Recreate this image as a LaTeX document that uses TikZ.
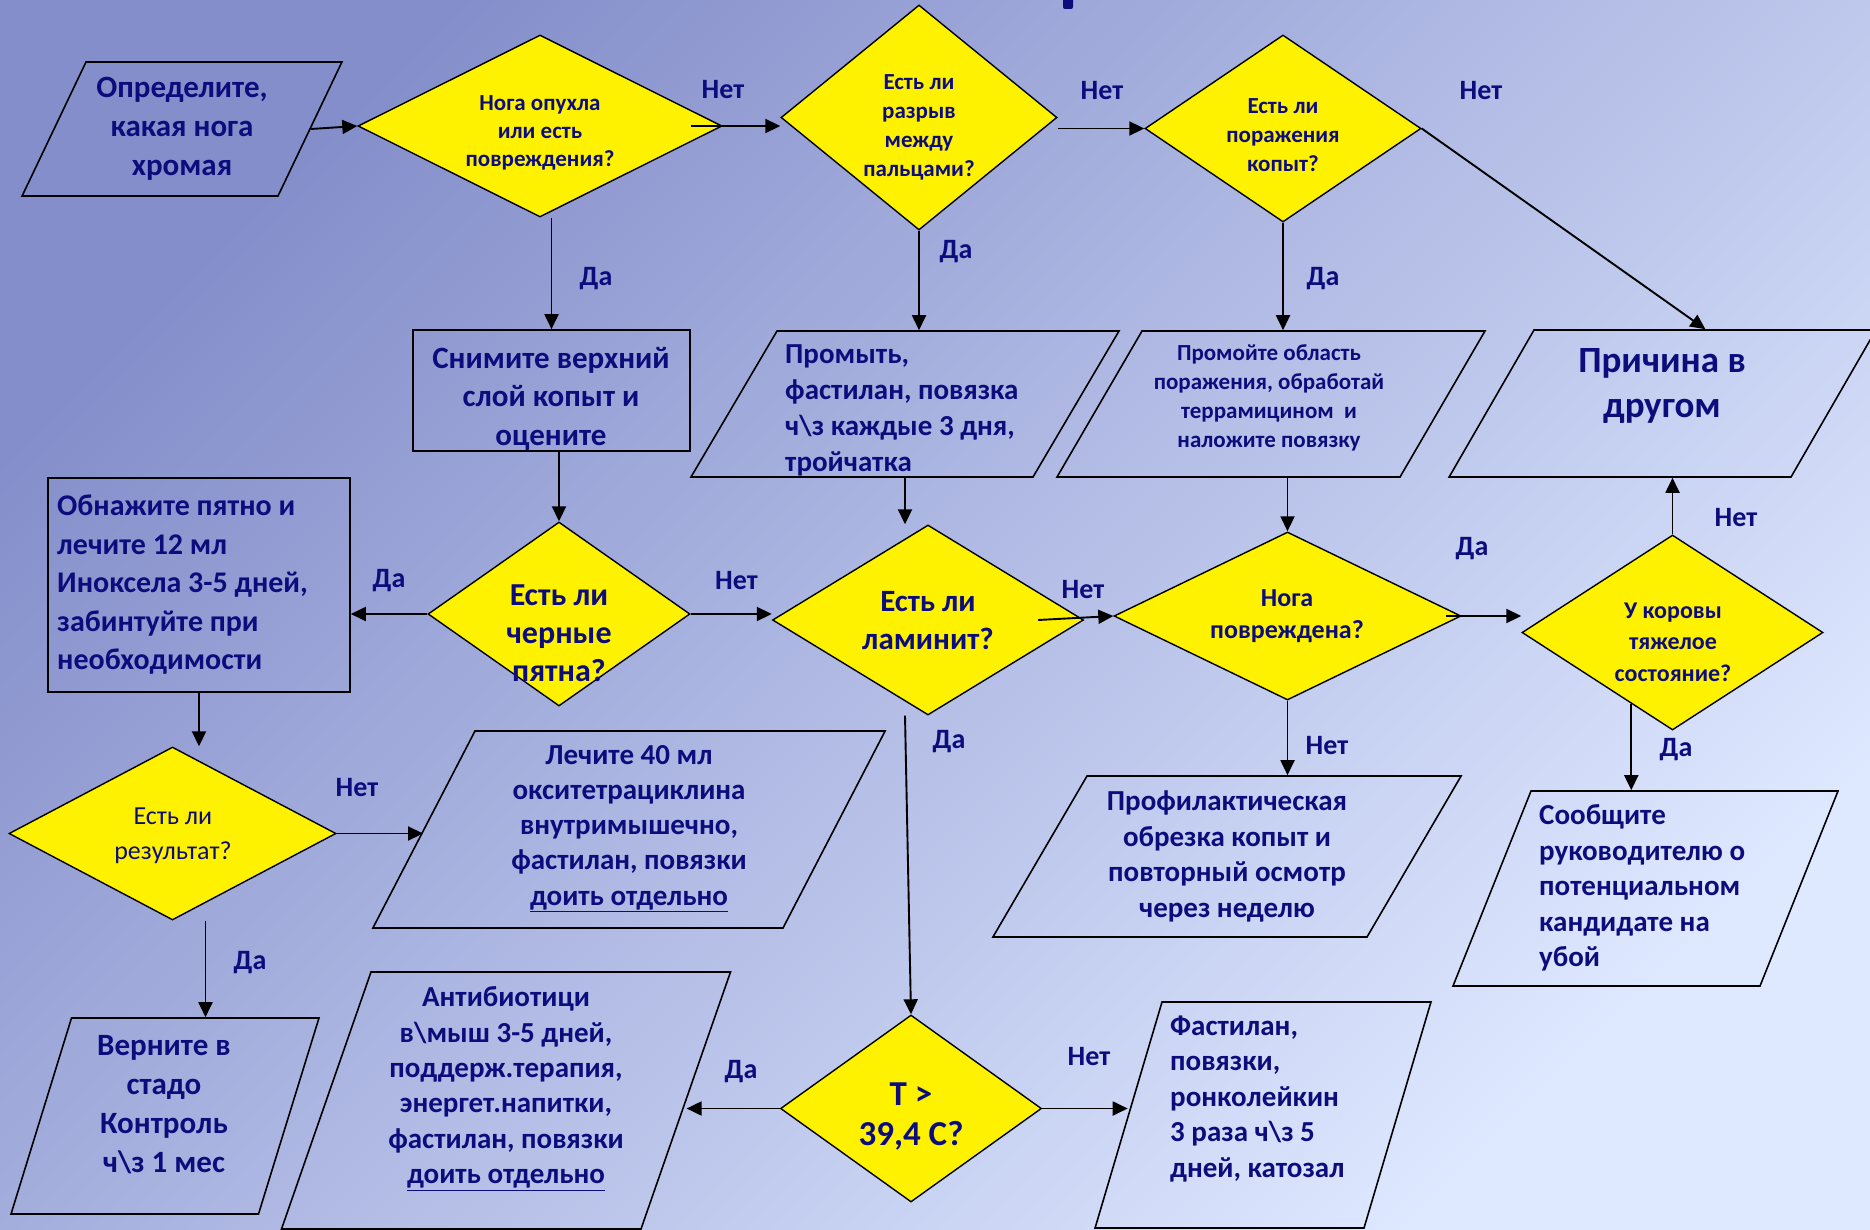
\documentclass[tikz,border=0pt]{standalone}
\usepackage{fontspec}
\setmainfont{Carlito}
\usetikzlibrary{shapes.geometric,arrows.meta,calc}

\definecolor{azuloscuro}{RGB}{12,12,125}
\definecolor{fondoA}{RGB}{132,142,202}
\definecolor{fondoB}{RGB}{198,208,244}
\definecolor{fondoC}{RGB}{222,232,255}

\tikzset{
  rombo/.style={diamond, draw=black, line width=1.4pt, fill=yellow, inner sep=0pt},
  para/.style={trapezium, draw=black, line width=1.6pt, minimum width=0pt, minimum height=0pt},
  caja/.style={rectangle, draw=black, line width=1.6pt, inner sep=0pt},
  texto/.style={text=azuloscuro, align=center, inner sep=0pt},
  tam/.style 2 args={font=\fontsize{#1}{#2}\selectfont\bfseries},
  etiq/.style={text=azuloscuro, font=\fontsize{28}{32}\selectfont\bfseries, inner sep=0pt},
  flecha/.style={-{Triangle[length=15pt,width=14pt]}, line width=1.9pt},
}

\begin{document}
\begin{tikzpicture}[x=1pt, y=-1pt]
            % Fondo degradado
            \useasboundingbox (0,0) rectangle (1870,1230);
            \shade[top color=fondoA, middle color=fondoB, bottom color=fondoC, shading angle=45] (0,0) rectangle (1870,1230);
            \fill[azuloscuro, rounded corners=2pt] (1063,-4) rectangle (1073,9);

            % Rombos de decision
            \node[rombo, minimum width=364, minimum height=182] (qOpukhla) at (540,126) {};
            \node[rombo, minimum width=276, minimum height=225] (qRazryv) at (919,117.5) {};
            \node[rombo, minimum width=276, minimum height=187] (qKopyt) at (1283,128.5) {};
            \node[rombo, minimum width=262, minimum height=184] (qPyatna) at (559,614) {};
            \node[rombo, minimum width=311, minimum height=190] (qLaminit) at (928,620) {};
            \node[rombo, minimum width=347, minimum height=168] (qNoga) at (1287.5,616) {};
            \node[rombo, minimum width=301, minimum height=195] (qKorova) at (1672.5,632.5) {};
            \node[rombo, minimum width=327, minimum height=173] (qRezult) at (172.5,833.5) {};
            \node[rombo, minimum width=261, minimum height=187] (qTemp) at (911,1108.5) {};

            % Cajas rectangulares
            \node[caja, minimum width=277, minimum height=121] (snimite) at (551.5,390.5) {};
            \node[caja, minimum width=302, minimum height=214] (obnazhite) at (199,585) {};

            % Paralelogramos
            \node[para, inner xsep=96, inner ysep=67, trapezium left angle=64.5, trapezium right angle=115.5] (opred) at (182,129) {};
            \node[para, inner xsep=128, inner ysep=73, trapezium left angle=59.5, trapezium right angle=120.5] (promyt) at (905,404) {};
            \node[para, inner xsep=129, inner ysep=73, trapezium left angle=59.8, trapezium right angle=120.2] (promoite) at (1271,404) {};
            \node[para, inner xsep=128.5, inner ysep=73.5, trapezium left angle=60, trapezium right angle=120] (prichina) at (1662.5,403.5) {};
            \node[para, inner xsep=114.5, inner ysep=97.5, trapezium left angle=68.2, trapezium right angle=111.8] (soobsh) at (1645.5,888.5) {};
            \node[para, inner xsep=140, inner ysep=80.5, trapezium left angle=59.7, trapezium right angle=120.3] (profil) at (1227,856.5) {};
            \node[para, inner xsep=154, inner ysep=98.5, trapezium left angle=62.6, trapezium right angle=117.4] (lechite) at (629,829.5) {};
            \node[para, inner xsep=93.5, inner ysep=98, trapezium left angle=72.85, trapezium right angle=107.15] (vernite) at (165,1116) {};
            \node[para, inner xsep=135, inner ysep=128.5, trapezium left angle=70.8, trapezium right angle=109.2] (antibiot) at (506,1100.5) {};
            \node[para, inner xsep=101, inner ysep=113, trapezium left angle=73.5, trapezium right angle=106.5] (fastilan) at (1263,1115) {};

            % Textos de los rombos
            \node[texto, tam={23}{28.3}] (qOpukhlaT) at (540,133) {Нога опухла\\или есть\\повреждения?};
            \node[texto, tam={23}{29}] (qRazryvT) at (919,127) {Есть ли\\разрыв\\между\\пальцами?};
            \node[texto, tam={23}{29}] (qKopytT) at (1283,135) {Есть ли\\поражения\\копыт?};
            \node[texto, tam={32}{38}] (qPyatnaT) at (559,633) {Есть ли\\черные\\пятна?};
            \node[texto, tam={31}{38}] (qLaminitT) at (928,621) {Есть ли\\ламинит?};
            \node[texto, tam={26}{32}] (qNogaT) at (1287,616) {Нога\\повреждена?};
            \node[texto, tam={24}{31.5}] (qKorovaT) at (1673,642) {У коровы\\тяжелое\\состояние?};
            \node[texto, font=\fontsize{26}{35}\selectfont] (qRezultT) at (173,835.5) {Есть ли\\результат?};
            \node[texto, tam={35}{40}] (qTempT) at (911,1117) {T >\\39,4 C?};

            % Textos de las cajas
            \node[texto, tam={31}{39}] (opredT) at (182,129) {Определите,\\какая нога\\хромая};
            \node[texto, tam={31}{38.5}] (snimiteT) at (551,398.5) {Снимите верхний\\слой копыт и\\оцените};
            \node[texto, tam={29}{36}, align=left, anchor=west] (promytT) at (785,410.5) {Промыть,\\фастилан, повязка\\ч\textbackslash з каждые 3 дня,\\тройчатка};
            \node[texto, tam={23}{29}] (promoiteT) at (1269,397.5) {Промойте область\\поражения, обработай\\террамицином~ и\\наложите повязку};
            \node[texto, tam={37}{45}] (prichinaT) at (1662,385.5) {Причина в\\другом};
            \node[texto, tam={30}{38.5}, align=left, anchor=west] (obnazhiteT) at (57,585) {Обнажите пятно и\\лечите 12 мл\\Иноксела 3-5 дней,\\забинтуйте при\\необходимости};
            \node[texto, tam={29}{35.3}] (lechiteT) at (629,828.5) {Лечите 40 мл\\окситетрациклина\\внутримышечно,\\фастилан, повязки\\\underline{доить отдельно}};
            \node[texto, tam={31}{39}] (verniteT) at (164,1105) {Верните в\\стадо\\Контроль\\ч\textbackslash з 1 мес};
            \node[texto, tam={29}{35.4}] (antibiotT) at (506,1088.5) {Антибиотици\\в\textbackslash мыш 3-5 дней,\\поддерж.терапия,\\энергет.напитки,\\фастилан, повязки\\\underline{доить отдельно}};
            \node[texto, tam={29}{35.5}, align=left, anchor=west] (fastilanT) at (1170,1099) {Фастилан,\\повязки,\\ронколейкин\\3 раза ч\textbackslash з 5\\дней, катозал};
            \node[texto, tam={29}{35.5}] (profilT) at (1227,856.5) {Профилактическая\\обрезка копыт и\\повторный осмотр\\через неделю};
            \node[texto, tam={29}{35.5}, align=left, anchor=west] (soobshT) at (1539,888) {Сообщите\\руководителю о\\потенциальном\\кандидате на\\убой};

            % Flechas
            \draw[flecha] (opred.right side) -- (qOpukhla.west);
            \draw[flecha] ([xshift=-32pt]qOpukhla.east) -- (qOpukhla.east -| qRazryv.west);
            \draw[flecha] (qRazryv.east |- qKopyt.west) -- (qKopyt.west);
            \draw[flecha] (qKopyt.east) -- (prichina.top side);
            \draw[flecha] (snimite.north |- qOpukhla.south) -- (snimite.north);
            \draw[flecha] (qRazryv.south) -- (qRazryv.south |- promyt.top side);
            \draw[flecha] (qKopyt.south) -- (qKopyt.south |- promoite.top side);
            \draw[flecha] (qPyatna.north |- snimite.south) -- (qPyatna.north);
            \draw[flecha] (qPyatna.west) -- (qPyatna.west -| obnazhite.east);
            \draw[flecha] (qPyatna.east) -- (qPyatna.east -| qLaminit.west);
            \draw[flecha] (promyt.center |- promyt.bottom side) -- (promyt.center |- qLaminit.north);
            \draw[flecha] ([xshift=-46pt]qLaminit.east) -- (qNoga.west);
            \draw[flecha] (qNoga.north |- promoite.bottom side) -- (qNoga.north);
            \draw[flecha] ([xshift=-16pt]qNoga.east) -- (qNoga.east -| qKorova.west);
            \draw[flecha] (qKorova.north) -- (qKorova.north |- prichina.bottom side);
            \draw[flecha] (qKorova.-120) -- (qKorova.-120 |- soobsh.top side);
            \draw[flecha] (qNoga.south) -- (qNoga.south |- profil.top side);
            \draw[flecha] ([xshift=-23pt]qLaminit.south) -- (qTemp.north);
            \draw[flecha] (qTemp.west) -- (qTemp.west -| antibiot.right side);
            \draw[flecha] (qTemp.east) -- (qTemp.east -| fastilan.left side);
            \draw[flecha] (obnazhite.south) -- (obnazhite.south |- qRezult.north);
            \draw[flecha] (qRezult.east) -- (qRezult.east -| lechite.left side);
            \draw[flecha] ([xshift=33pt]qRezult.south) -- ([xshift=33pt]qRezult.south |- vernite.top side);

            % Etiquetas Да / Нет
            \node[etiq] (net1) at (723,90) {Нет};
            \node[etiq] (net2) at (1102,91) {Нет};
            \node[etiq] (net3) at (1481,91) {Нет};
            \node[etiq] (da1) at (596,279) {Да};
            \node[etiq] (da2) at (956,252) {Да};
            \node[etiq] (da3) at (1323,279) {Да};
            \node[etiq] (da4) at (389,581) {Да};
            \node[etiq] (net4) at (736.5,581) {Нет};
            \node[etiq] (net5) at (1083,590) {Нет};
            \node[etiq] (da5) at (1472,549) {Да};
            \node[etiq] (net6) at (1736,518) {Нет};
            \node[etiq] (da6) at (1676,750) {Да};
            \node[etiq] (net7) at (1327,746) {Нет};
            \node[etiq] (da7) at (949,742) {Да};
            \node[etiq] (net8) at (357,788) {Нет};
            \node[etiq] (da8) at (250,963) {Да};
            \node[etiq] (da9) at (741,1072) {Да};
            \node[etiq] (net9) at (1089,1057) {Нет};
        \end{tikzpicture}
\end{document}
